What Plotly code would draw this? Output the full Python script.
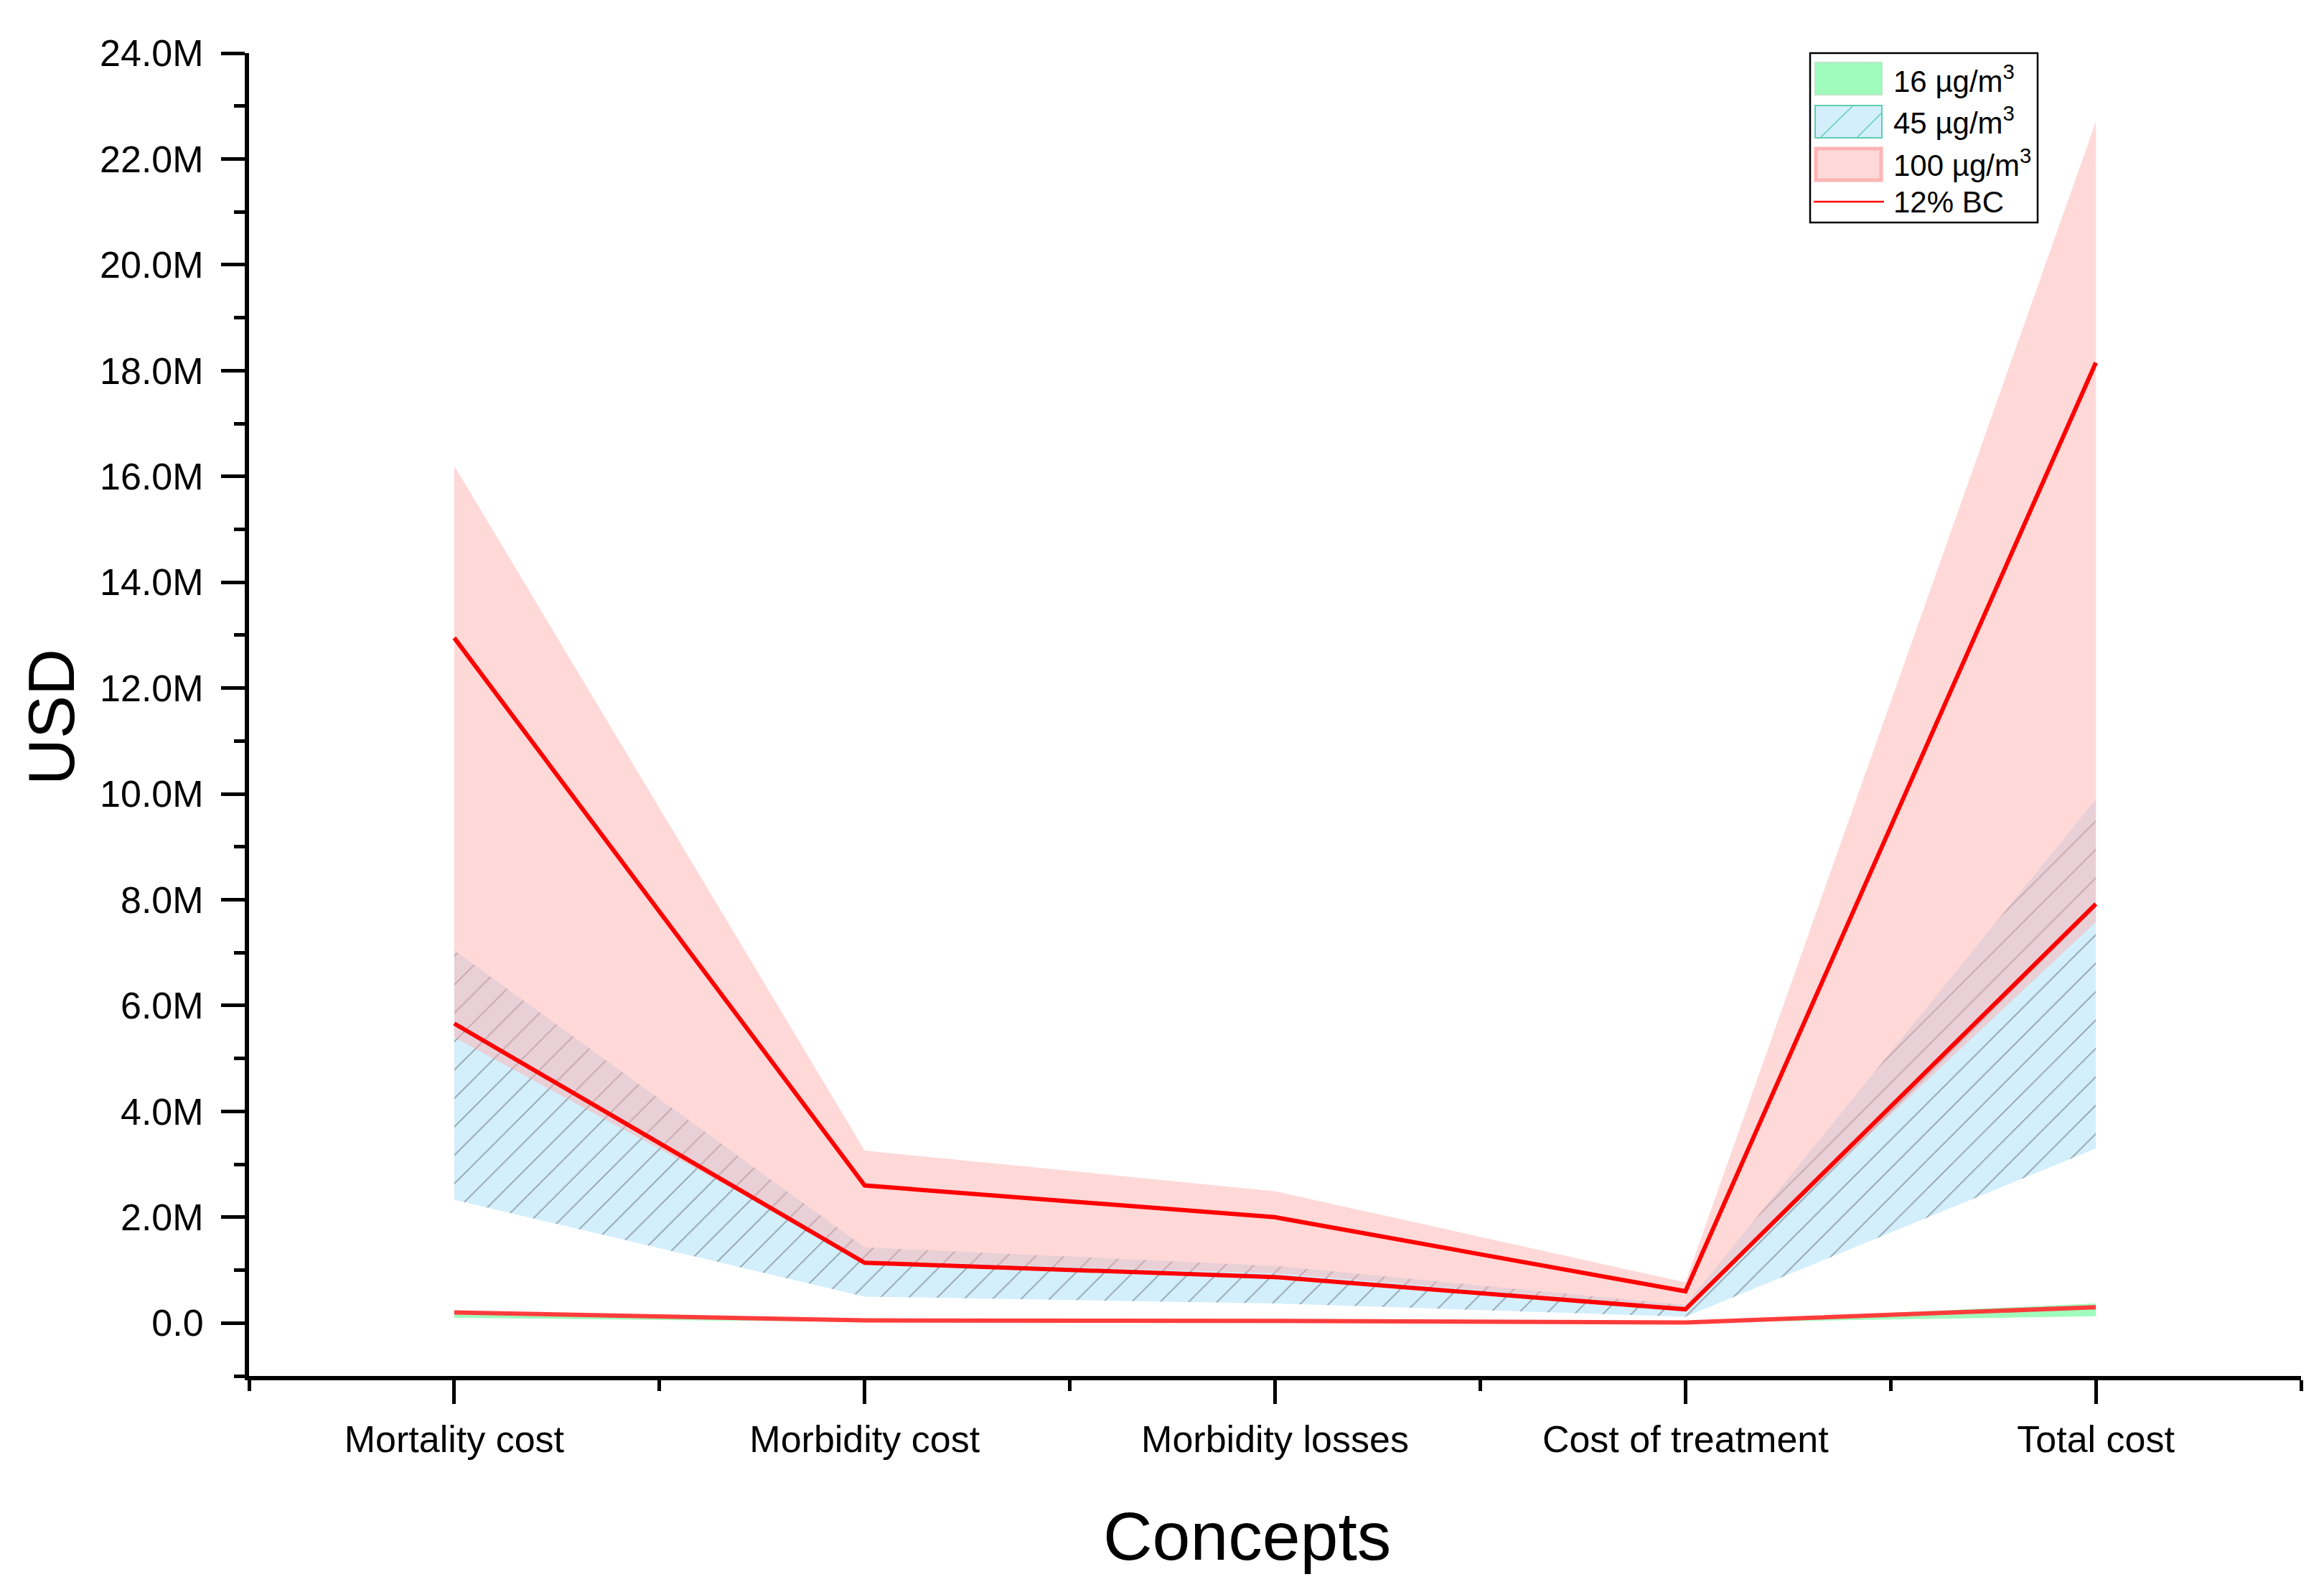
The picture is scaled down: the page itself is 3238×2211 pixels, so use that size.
import plotly.graph_objects as go

# ---------------- data (millions of USD) ----------------
categories = ["Mortality cost", "Morbidity cost", "Morbidity losses", "Cost of treatment", "Total cost"]

low16 = [0.10, 0.02, 0.02, 0.005, 0.13]
high16 = [0.22, 0.07, 0.06, 0.02, 0.37]
bc16 = [0.20, 0.05, 0.04, 0.01, 0.30]

low45 = [2.33, 0.50, 0.37, 0.12, 3.30]
high45 = [7.04, 1.43, 1.08, 0.34, 9.90]
bc45 = [5.66, 1.14, 0.87, 0.26, 7.92]

low100 = [5.40, 1.18, 0.94, 0.30, 7.58]
high100 = [16.20, 3.26, 2.49, 0.77, 22.70]
bc100 = [12.95, 2.60, 2.00, 0.60, 18.15]

y_tickvals = [0, 2, 4, 6, 8, 10, 12, 14, 16, 18, 20, 22, 24]
y_ticktext = ["0.0", "2.0M", "4.0M", "6.0M", "8.0M", "10.0M", "12.0M", "14.0M",
              "16.0M", "18.0M", "20.0M", "22.0M", "24.0M"]

legend_labels = ["16 µg/m<sup>3</sup>", "45 µg/m<sup>3</sup>", "100 µg/m<sup>3</sup>", "12% BC"]
x_title = "Concepts"
y_title = "USD"

# ---------------- styles ----------------
GREEN = "rgb(160,252,188)"
BLUE = "rgb(211,239,251)"
HATCH = "rgb(145,160,170)"
PINK = "rgba(255,174,174,0.48)"
RED = "rgb(255,0,0)"
RED_LIGHT = "rgb(255,60,60)"
FONT = "Liberation Sans, Arial, sans-serif"

W, H = 3238, 2211
OFF = 8  # page body margin
PL, PR, PT, PB = 339, 3198, 66, 1909


def px(x):
    return (x - OFF - PL) / (PR - PL)


def py(y):
    return (PB - (y - OFF)) / (PB - PT)


xs = list(range(len(categories)))

fig = go.Figure()


def band(low, high, fill_kwargs):
    fig.add_trace(go.Scatter(x=xs, y=low, mode="lines", line=dict(width=0, color="rgba(0,0,0,0)"),
                             showlegend=False, hoverinfo="skip"))
    fig.add_trace(go.Scatter(x=xs, y=high, mode="lines", line=dict(width=0, color="rgba(0,0,0,0)"),
                             fill="tonexty", showlegend=False, hoverinfo="skip", **fill_kwargs))


band(low16, high16, dict(fillcolor=GREEN))
band(low45, high45, dict(fillcolor=BLUE,
                         fillpattern=dict(shape="/", bgcolor=BLUE, fgcolor=HATCH, size=28,
                                          solidity=0.06, fillmode="replace")))
band(low100, high100, dict(fillcolor=PINK))

fig.add_trace(go.Scatter(x=xs, y=bc16, mode="lines", line=dict(color=RED_LIGHT, width=6), showlegend=False))
fig.add_trace(go.Scatter(x=xs, y=bc45, mode="lines", line=dict(color=RED, width=6), showlegend=False))
fig.add_trace(go.Scatter(x=xs, y=bc100, mode="lines", line=dict(color=RED, width=6), showlegend=False))

# ---------------- custom legend ----------------
shapes = []
annotations = []
shapes.append(dict(type="rect", xref="paper", yref="paper", x0=px(2522), x1=px(2839), y0=py(310), y1=py(74),
                   line=dict(color="black", width=2.5), fillcolor="white", layer="above"))
shapes.append(dict(type="rect", xref="paper", yref="paper", x0=px(2529), x1=px(2622), y0=py(132), y1=py(87),
                   line=dict(color="rgb(190,230,200)", width=2), fillcolor=GREEN, layer="above"))
shapes.append(dict(type="rect", xref="paper", yref="paper", x0=px(2529), x1=px(2622), y0=py(192), y1=py(147),
                   line=dict(color="rgb(95,205,175)", width=2), fillcolor=BLUE, layer="above"))
shapes.append(dict(type="line", xref="paper", yref="paper", x0=px(2537), x1=px(2581), y0=py(191), y1=py(148),
                   line=dict(color="rgb(95,205,175)", width=1.5), layer="above"))
shapes.append(dict(type="line", xref="paper", yref="paper", x0=px(2588), x1=px(2621), y0=py(191), y1=py(158),
                   line=dict(color="rgb(95,205,175)", width=1.5), layer="above"))
shapes.append(dict(type="rect", xref="paper", yref="paper", x0=px(2530), x1=px(2621), y0=py(251), y1=py(207),
                   line=dict(color="rgb(255,180,180)", width=5), fillcolor="rgb(255,216,216)", layer="above"))
shapes.append(dict(type="line", xref="paper", yref="paper", x0=px(2527), x1=px(2625), y0=py(281), y1=py(281),
                   line=dict(color=RED, width=2.5), layer="above"))

for label, yc in zip(legend_labels, [110, 168, 227, 281]):
    annotations.append(dict(text=label, xref="paper", yref="paper", x=px(2636), y=py(yc),
                            xanchor="left", yanchor="middle", showarrow=False,
                            font=dict(family=FONT, size=42, color="black")))

# axis titles
annotations.append(dict(text=x_title, xref="paper", yref="paper", x=px(1737), y=py(2140),
                        xanchor="center", yanchor="middle", showarrow=False,
                        font=dict(family=FONT, size=95, color="black")))
annotations.append(dict(text=y_title, xref="paper", yref="paper", x=px(72), y=py(999),
                        xanchor="center", yanchor="middle", showarrow=False, textangle=-90,
                        font=dict(family=FONT, size=90, color="black")))

fig.update_layout(
    width=W, height=H,
    margin=dict(l=PL, r=W - PR, t=PT, b=H - PB, pad=0),
    plot_bgcolor="white", paper_bgcolor="white",
    showlegend=False,
    font=dict(family=FONT, color="black"),
    shapes=shapes, annotations=annotations,
    xaxis=dict(
        range=[-0.5, 4.5], showgrid=False, zeroline=False,
        showline=True, linecolor="black", linewidth=6,
        ticks="outside", ticklen=33, tickwidth=5, tickcolor="black",
        tickvals=xs, ticktext=categories,
        tickfont=dict(family=FONT, size=52, color="black"),
        ticklabelstandoff=5,
        minor=dict(tick0=-0.5, dtick=1, ticks="outside", ticklen=15, tickwidth=5,
                   tickcolor="black", showgrid=False),
    ),
    yaxis=dict(
        range=[-1, 24], showgrid=False, zeroline=False,
        showline=True, linecolor="black", linewidth=6,
        ticks="outside", ticklen=33, tickwidth=5, tickcolor="black",
        tickvals=y_tickvals, ticktext=y_ticktext,
        tickfont=dict(family=FONT, size=52, color="black"),
        ticklabelstandoff=14,
        minor=dict(tick0=0, dtick=1, ticks="outside", ticklen=15, tickwidth=5,
                   tickcolor="black", showgrid=False),
    ),
)

fig.write_html("out.html")
